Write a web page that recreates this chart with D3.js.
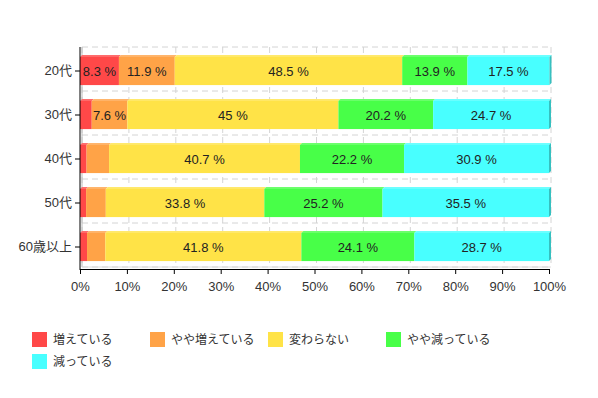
<!DOCTYPE html>
<html><head><meta charset="utf-8">
<script src="https://cdn.jsdelivr.net/npm/d3@7"></script>
<style>
body{margin:0;background:#fff;}
text{font-family:"Liberation Sans","Noto Sans CJK JP",sans-serif;}
</style></head>
<body><svg id="c" width="598" height="398"></svg>
<script>
const categories = ["20代","30代","40代","50代","60歳以上"];
const seriesNames = ["増えている","やや増えている","変わらない","やや減っている","減っている"];
const colors = ["#ff4848","#ffa347","#ffe347","#48ff48","#48ffff"];
const s1 = [8.3, 2.5, 1.4, 1.3, 1.5];
const s2 = [11.9, 7.6, 4.8, 4.2, 3.9];
const s3 = [48.5, 45, 40.7, 33.8, 41.8];
const s4 = [13.9, 20.2, 22.2, 25.2, 24.1];
const s5 = [17.5, 24.7, 30.9, 35.5, 28.7];
const xTicks = [0,10,20,30,40,50,60,70,80,90,100];
const series = [s1,s2,s3,s4,s5];

const svg = d3.select("#c");
const L=80, R=549, T=49, B=269, dx=2, dy=2;
const x = d3.scaleLinear().domain([0,100]).range([L,R]);
const y = d3.scaleBand().domain(categories).range([T,B]).paddingInner(0.36).paddingOuter(0.18);

// back grid
const g = svg.append("g");
const hLines = [T-dy];
categories.forEach((c,i)=>{ hLines.push(T-dy + (i+1)*y.step()); });
g.selectAll("line.h").data(hLines).enter().append("line")
  .attr("x1",L+dx).attr("x2",R+dx).attr("y1",d=>d).attr("y2",d=>d)
  .attr("stroke","#d4d4d4").attr("stroke-dasharray","6,4");
g.selectAll("line.v").data(xTicks).enter().append("line")
  .attr("x1",d=>x(d)+dx).attr("x2",d=>x(d)+dx).attr("y1",T-dy).attr("y2",B-dy)
  .attr("stroke","#d4d4d4").attr("stroke-dasharray","6,4");
g.append("line").attr("x1",L+dx).attr("x2",L+dx).attr("y1",T-dy).attr("y2",B-dy).attr("stroke","#bbb");
g.append("line").attr("x1",L+dx).attr("x2",R+dx).attr("y1",B-dy).attr("y2",B-dy).attr("stroke","#ddd");

// bars
const bars = svg.append("g");
categories.forEach((c,ci)=>{
  let acc=0;
  const y0=y(c), h=y.bandwidth();
  series.forEach((s,si)=>{
    const v=s[ci];
    const x0=x(acc), x1=x(acc+v);
    acc+=v;
    const col=d3.color(colors[si]);
    bars.append("polygon")
      .attr("points",[[x0,y0],[x0+dx,y0-dy],[x1+dx,y0-dy],[x1,y0]].map(p=>p.join(",")).join(" "))
      .attr("fill",d3.interpolateRgb(colors[si],"#fff")(0.2));
    bars.append("rect").attr("x",x0).attr("y",y0).attr("width",x1-x0).attr("height",h).attr("fill",colors[si]);
    if(si===series.length-1){
      bars.append("polygon")
        .attr("points",[[x1,y0],[x1+dx,y0-dy],[x1+dx,y0+h-dy],[x1,y0+h]].map(p=>p.join(",")).join(" "))
        .attr("fill",col.darker(0.8));
    }
    if(v>=5){
      bars.append("text").attr("x",(x0+x1)/2).attr("y",y0+h/2).attr("dy","0.35em")
        .attr("text-anchor","middle").attr("font-size",13).attr("fill","#222")
        .text(v+" %");
    }
  });
});

// axes
const xa = svg.append("g").attr("transform",`translate(0,${B})`)
  .call(d3.axisBottom(x).tickValues(xTicks).tickFormat(d=>d+"%").tickSizeOuter(0).tickSize(5));
xa.selectAll("text").attr("font-size",13).attr("fill","#333").attr("dy","1.1em");
xa.select(".domain").attr("stroke","#000");
const ya = svg.append("g").attr("transform",`translate(${L},0)`)
  .call(d3.axisLeft(y).tickSizeOuter(0).tickSize(5));
ya.selectAll("text").attr("font-size",13).attr("fill","#333");
ya.select(".domain").attr("stroke","#000").attr("d",`M0,${T-2}V${B+1}`);

// legend
const leg = svg.append("g");
seriesNames.forEach((n,i)=>{
  const col=i%4, row=Math.floor(i/4);
  const lx=32+col*118, ly=332+row*22;
  leg.append("rect").attr("x",lx).attr("y",ly).attr("width",15).attr("height",15).attr("fill",colors[i]);
  leg.append("text").attr("x",lx+21).attr("y",ly+8).attr("dy","0.35em").attr("font-size",12).attr("fill","#333").text(n);
});
</script></body></html>
